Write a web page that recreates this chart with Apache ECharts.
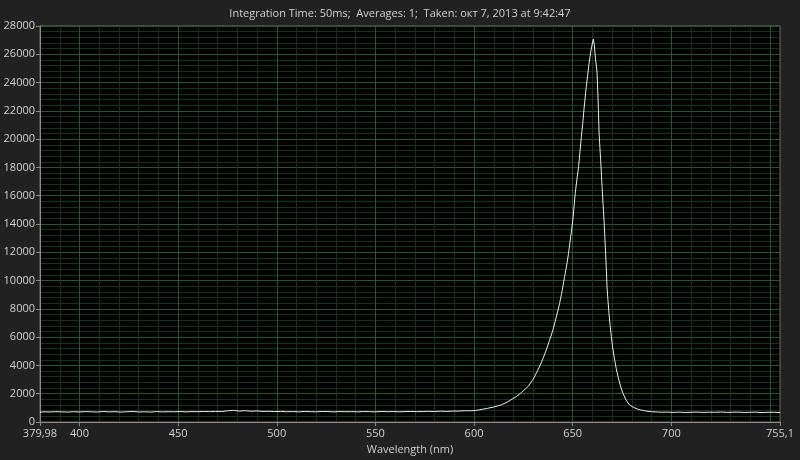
<!DOCTYPE html>
<html>
<head>
<meta charset="utf-8">
<script src="https://cdn.jsdelivr.net/npm/echarts@6/dist/echarts.min.js"></script>
<style>
  html, body { margin: 0; padding: 0; background: #212121; }
  #chart { width: 800px; height: 460px; }
</style>
</head>
<body>
<div id="chart"></div>
<script>
// spectrum (nm / counts)
var wavelength = [
    379.98, 382, 385, 388, 391, 394, 397, 400, 403, 406, 409, 412, 415, 418, 421, 424, 427, 430,
    433, 436, 439, 442, 445, 448, 451, 454, 457, 460, 463, 466, 469, 472, 475, 478, 481, 484,
    487, 490, 493, 496, 499, 502, 505, 508, 511, 514, 517, 520, 523, 526, 529, 532, 535, 538,
    541, 544, 547, 550, 553, 556, 559, 562, 565, 568, 571, 574, 577, 580, 583, 586, 589, 592,
    595, 598, 600.1, 603, 606.9, 610, 613.7, 617, 621.3, 624, 627.3, 630, 632.4, 634.5, 636.6,
    638.3, 640, 641.7, 643.4, 644.7, 645.9, 647, 647.9, 649, 650.1, 651.3, 652.1, 653, 653.7,
    654.4, 655.1, 655.7, 656.3, 656.9, 657.6, 658.3, 659.2, 660, 660.5, 661, 661.6, 662.1, 662.4,
    662.9, 663.4, 663.8, 664.2, 664.9, 665.4, 665.9, 666.3, 666.7, 667.1, 667.4, 667.9, 668.4,
    669, 669.6, 670.4, 671.3, 672.1, 673, 674.2, 675.5, 677, 678.9, 681, 683.2, 686, 689.9,
    693, 695, 698, 701, 704, 707, 710, 713, 716, 719, 722, 725, 728, 731, 734, 737, 740, 743,
    746, 749, 752, 755.1
];
var intensity = [
    690, 720, 705, 730, 715, 700, 725, 710, 735, 720, 705, 740, 715, 730, 700, 725, 745, 710,
    720, 705, 735, 715, 730, 720, 740, 715, 735, 725, 745, 730, 750, 740, 790, 820, 770, 800,
    760, 785, 745, 760, 735, 750, 725, 740, 715, 745, 730, 720, 745, 735, 715, 740, 725, 735,
    715, 740, 730, 720, 745, 725, 740, 720, 735, 750, 730, 745, 755, 740, 765, 750, 770, 775,
    790, 795, 800, 870, 970, 1060, 1200, 1420, 1790, 2080, 2500, 3030, 3680, 4320, 5090,
    5780, 6510, 7420, 8390, 9300, 10280, 11100, 11930, 13100, 14290, 16170, 17100, 18050, 19100,
    20180, 21100, 22060, 22900, 23710, 24500, 25360, 26200, 26800, 27080, 26600, 25600, 25100, 24600,
    22700, 20420, 19400, 18530, 16640, 15400, 14290, 13100, 11930, 10700, 9570, 8600, 7690,
    6800, 6030, 5150, 4380, 3760, 3200, 2550, 2030, 1560, 1200, 1020, 900, 800, 730,
    705, 690, 700, 680, 695, 675, 690, 700, 680, 695, 685, 705, 680, 690, 700, 675, 690, 695,
    670, 685, 690, 670
];

var xLabels = [379.98, 400, 450, 500, 550, 600, 650, 700, 755.1];
var xMajorGrid = [400, 450, 500, 550, 600, 650, 700, 750];
var xMinorGrid = [390, 410, 420, 430, 440, 460, 470, 480, 490, 510, 520, 530, 540, 560, 570, 580, 590,
    610, 620, 630, 640, 660, 670, 680, 690, 710, 720, 730, 740];

var titleText = 'Integration Time: 50ms;  Averages: 1;  Taken: окт 7, 2013 at 9:42:47';

var points = wavelength.map(function (w, i) { return [w, intensity[i]]; });

var majorColor = '#24592a';
var minorColor = '#143519';

var gridLines = [];
xMinorGrid.forEach(function (v) {
    gridLines.push({ xAxis: v, lineStyle: { color: minorColor, width: 1, type: 'solid' } });
});
xMajorGrid.forEach(function (v) {
    gridLines.push({ xAxis: v, lineStyle: { color: majorColor, width: 1, type: 'solid' } });
});

var labelFont = { color: '#cfcfcf', fontSize: 11, fontFamily: 'Open Sans' };

var option = {
    backgroundColor: '#212121',
    animation: false,
    title: {
        text: titleText,
        left: 'center',
        top: 3,
        textStyle: { color: '#cfcfcf', fontSize: 11, fontWeight: 'normal', fontFamily: 'Open Sans' }
    },
    grid: {
        left: 40, right: 20, top: 26, bottom: 38,
        show: true,
        backgroundColor: '#000',
        borderColor: '#6e6e6e',
        borderWidth: 1
    },
    xAxis: {
        type: 'value',
        min: 379.98,
        max: 755.1,
        name: 'Wavelength (nm)',
        nameLocation: 'middle',
        nameGap: 22,
        nameTextStyle: labelFont,
        axisLine: { lineStyle: { color: '#8a8a8a' } },
        axisTick: { show: true, customValues: xLabels, length: 4, lineStyle: { color: '#8a8a8a' } },
        axisLabel: {
            customValues: xLabels,
            margin: 6,
            color: labelFont.color, fontSize: 11, fontFamily: labelFont.fontFamily,
            formatter: function (v) { return String(v).replace('.', ','); }
        },
        splitLine: { show: false }
    },
    yAxis: {
        type: 'value',
        min: 0,
        max: 28000,
        interval: 2000,
        axisLine: { show: true, lineStyle: { color: '#8a8a8a' } },
        axisTick: { show: true, length: 4, lineStyle: { color: '#8a8a8a' } },
        axisLabel: {
            margin: 5, color: labelFont.color, fontSize: 11, fontFamily: labelFont.fontFamily,
            formatter: function (v) { return String(v); }
        },
        splitLine: { show: true, lineStyle: { color: majorColor, width: 1 } },
        minorTick: { show: false, splitNumber: 5 },
        minorSplitLine: { show: true, lineStyle: { color: minorColor, width: 1 } }
    },
    series: [
        {
            type: 'line',
            data: [],
            silent: true,
            z: 1,
            markLine: {
                silent: true,
                symbol: 'none',
                label: { show: false },
                animation: false,
                data: gridLines
            }
        },
        {
            type: 'line',
            data: points,
            z: 5,
            showSymbol: false,
            symbol: 'none',
            lineStyle: { color: '#ececec', width: 1 }
        }
    ]
};

echarts.init(document.getElementById('chart')).setOption(option);
</script>
</body>
</html>
